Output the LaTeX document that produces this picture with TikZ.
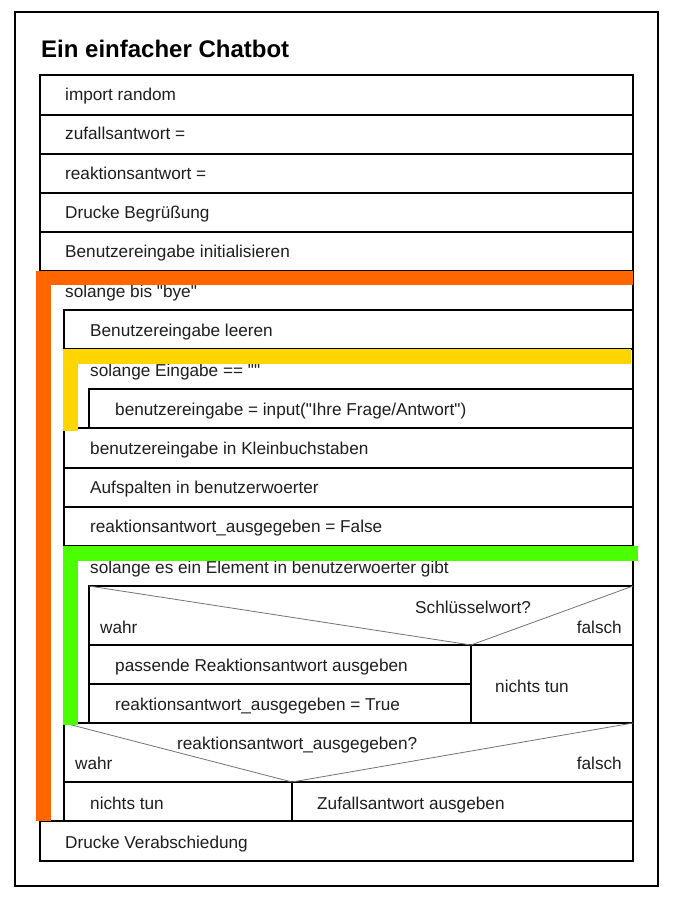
\documentclass[tikz,border=0pt]{standalone}
\usepackage{fontspec}
\setmainfont{Liberation Sans}[Ligatures=TeXOff]
\definecolor{barorange}{RGB}{255,102,0}
\definecolor{baryellow}{RGB}{255,213,0}
\definecolor{bargreen}{RGB}{76,255,0}
\definecolor{ink}{RGB}{30,30,30}
\begin{document}
\begin{tikzpicture}[x=1pt,y=-1pt,
  frame/.style={draw=black,line width=2pt},
  box/.style={draw=black,line width=1.8pt},
  diag/.style={draw=black!55,line width=0.8pt},
  lbl/.style={anchor=base west,inner sep=0pt,text=ink,font=\fontsize{17.2}{20}\selectfont},
  lblr/.style={anchor=base east,inner sep=0pt,text=ink,font=\fontsize{17.2}{20}\selectfont},
  ttl/.style={anchor=base west,inner sep=0pt,text=black,font=\fontsize{24}{28}\selectfont\bfseries},
  bar/.style={draw=none}]
\useasboundingbox (0,0) rectangle (675,904);
\fill[white] (0,0) rectangle (675,904);
% outer frame
\draw[frame] (15,12) rectangle (658,886);
\node[ttl] (title) at (41,58) {Ein einfacher Chatbot};
% main column
\draw[box] (40,75) rectangle (633,861);
\foreach \yy in {115,154,193,232,271,821}
  \draw[box] (40,\yy) -- (633,\yy);
% loop 1 body
\draw[box] (64,310) rectangle (633,821);
\foreach \yy in {349,428,468,507,546,723,782}
  \draw[box] (64,\yy) -- (633,\yy);
% loop 2 body
\draw[box] (89,389) rectangle (633,428);
% loop 3 body
\draw[box] (89,586) rectangle (633,723);
\draw[box] (89,645) -- (633,645);
\draw[box] (471,645) -- (471,723);
\draw[box] (89,684) -- (471,684);
% second decision split
\draw[box] (292,782) -- (292,821);
% decision diagonals
\coordinate (d1l) at (89,586);
\coordinate (d1m) at (471,645);
\coordinate (d1r) at (633,586);
\draw[diag] (d1l) -- (d1m) -- (d1r);
\coordinate (d2l) at (64,723);
\coordinate (d2m) at (292,782);
\coordinate (d2r) at (633,723);
\draw[diag] (d2l) -- (d2m) -- (d2r);
% texts
\node[lbl] (t0) at (65,101) {import random};
\node[lbl] (t1) at (65,140) {zufallsantwort =};
\node[lbl] (t2) at (65,179) {reaktionsantwort =};
\node[lbl] (t3) at (65,218) {Drucke Begrüßung};
\node[lbl] (t4) at (65,257) {Benutzereingabe initialisieren};
\node[lbl] (t5) at (65,297) {solange bis "bye"};
\node[lbl] (t6) at (90,336) {Benutzereingabe leeren};
\node[lbl] (t7) at (90,376) {solange Eingabe == ""};
\node[lbl] (t8) at (115,415) {benutzereingabe = input("Ihre Frage/Antwort")};
\node[lbl] (t9) at (90,454) {benutzereingabe in Kleinbuchstaben};
\node[lbl] (t10) at (90,493) {Aufspalten in benutzerwoerter};
\node[lbl] (t11) at (90,532) {reaktionsantwort\_ausgegeben = False};
\node[lbl] (t12) at (90,573) {solange es ein Element in benutzerwoerter gibt};
\node[lbl] (q1) at (415,613) {Schlüsselwort?};
\node[lbl] (w1) at (100,633) {wahr};
\node[lblr] (f1) at (622,633) {falsch};
\node[lbl] (t13) at (115,671) {passende Reaktionsantwort ausgeben};
\node[lbl] (t14) at (115,710) {reaktionsantwort\_ausgegeben = True};
\node[lbl] (n1) at (495,692) {nichts tun};
\node[lbl] (q2) at (177,749) {reaktionsantwort\_ausgegeben?};
\node[lbl] (w2) at (75,769) {wahr};
\node[lblr] (f2) at (622,769) {falsch};
\node[lbl] (n2) at (90,809) {nichts tun};
\node[lbl] (z1) at (317,809) {Zufallsantwort ausgeben};
\node[lbl] (t15) at (65,848) {Drucke Verabschiedung};
% colour bars
\fill[barorange] (36,271) rectangle (633,285);
\fill[barorange] (36,271) rectangle (51,821);
\fill[baryellow] (63,349) rectangle (631,364);
\fill[baryellow] (63,349) rectangle (78,431);
\fill[bargreen] (63,546) rectangle (638,561);
\fill[bargreen] (63,546) rectangle (78,725);
\end{tikzpicture}
\end{document}
